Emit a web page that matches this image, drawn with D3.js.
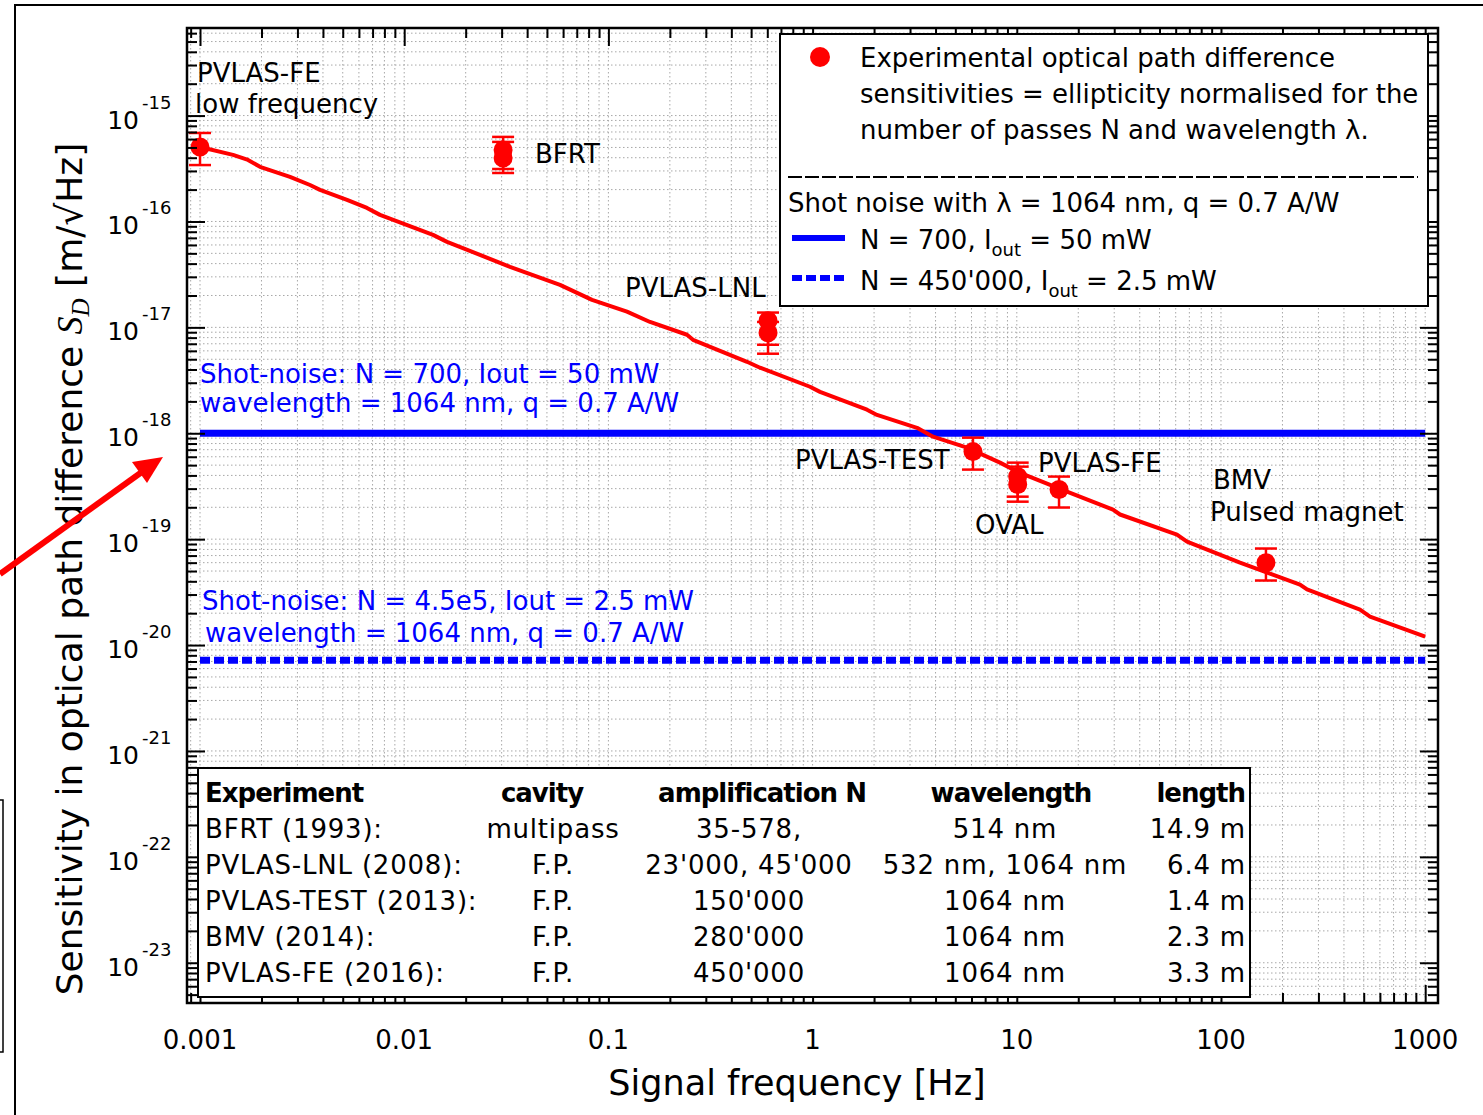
<!DOCTYPE html>
<html>
<head>
<meta charset="utf-8">
<script src="https://cdn.jsdelivr.net/npm/d3@7"></script>
<style>
  body { margin: 0; background: #fff; }
  text { font-family: "DejaVu Sans", sans-serif; }
</style>
</head>
<body>
<div id="chart"></div>
<script>
"use strict"

// sensitivity curve of PVLAS-FE (frequency in Hz, sensitivity in m/sqrt(Hz))
var curveFreq = [0.001, 0.001451, 0.001718, 0.001967, 0.002759, 0.003457, 0.003869, 0.005247, 0.006572, 0.007612,
    0.01384, 0.01621, 0.02945, 0.03297, 0.05794, 0.08313, 0.1233, 0.1599, 0.2426, 0.2596, 0.4774, 0.5527,
    0.9712, 1.087, 1.847, 2.067, 3.246, 3.887, 5.703, 8.275, 10.02, 17.61, 29.59, 32.02, 60.87, 68.15,
    123.9, 243.7, 263.8, 479.4, 536.7, 1000];
var curveVal = [5.05e-16, 4.25e-16, 3.81e-16, 3.28e-16, 2.64e-16, 2.21e-16, 1.99e-16, 1.60e-16, 1.343e-16, 1.154e-16,
    7.47e-17, 6.42e-17, 4.07e-17, 3.73e-17, 2.52e-17, 1.82e-17, 1.41e-17, 1.125e-17, 8.52e-18, 7.63e-18, 4.73e-18, 4.16e-18,
    2.75e-18, 2.46e-18, 1.67e-18, 1.49e-18, 1.125e-18, 9.28e-19, 7.31e-19, 5.28e-19, 4.35e-19, 2.81e-19, 1.90e-19, 1.71e-19, 1.106e-19, 9.50e-20,
    6.01e-20, 3.73e-20, 3.35e-20, 2.16e-20, 1.86e-20, 1.20e-20];

// experimental points with error bars
var ptFreq = [0.001, 0.0305, 0.0305, 0.605, 0.605, 6.1, 10.1, 10.1, 16.1, 166];
var ptVal  = [5.05e-16, 4.74e-16, 3.98e-16, 1.154e-17, 8.89e-18, 6.71e-19, 3.90e-19, 3.28e-19, 2.94e-19, 6.00e-20];
var ptHi   = [6.85e-16, 6.29e-16, 5.64e-16, 1.38e-17, 1.125e-17, 9.09e-19, 5.28e-19, 4.84e-19, 3.90e-19, 8.16e-20];
var ptLo   = [3.41e-16, 3.13e-16, 2.87e-16, 6.85e-18, 5.64e-18, 4.54e-19, 2.52e-19, 2.26e-19, 1.99e-19, 4.07e-20];

// shot noise levels
var shotNoise700 = 1.0e-18;
var shotNoise450k = 7.2e-21;

// tick labels
var xTickVals = [0.001, 0.01, 0.1, 1, 10, 100, 1000];
var xTickLabels = ["0.001", "0.01", "0.1", "1", "10", "100", "1000"];
var yTickExps = [-15, -16, -17, -18, -19, -20, -21, -22, -23];

// table
var tblExperiment = ["BFRT (1993):", "PVLAS-LNL (2008):", "PVLAS-TEST (2013):", "BMV (2014):", "PVLAS-FE (2016):"];
var tblCavity = ["multipass", "F.P.", "F.P.", "F.P.", "F.P."];
var tblAmplification = ["35-578,", "23'000, 45'000", "150'000", "280'000", "450'000"];
var tblWavelength = ["514 nm", "532 nm, 1064 nm", "1064 nm", "1064 nm", "1064 nm"];
var tblLength = ["14.9 m", "6.4 m", "1.4 m", "2.3 m", "3.3 m"];

var W = 1483, H = 1115;
var pLeft = 187, pRight = 1438, pTop = 28, pBottom = 1003;

var svg = d3.select("#chart").append("svg")
    .attr("width", W).attr("height", H);
svg.append("rect").attr("width", W).attr("height", H).attr("fill", "#fff");

var x = d3.scaleLog()
    .domain([Math.pow(10, -3.0637), Math.pow(10, 3.0627)])
    .range([pLeft, pRight]);
var y = d3.scaleLog()
    .domain([Math.pow(10, -14.173), Math.pow(10, -23.38)])
    .range([pTop, pBottom]);

// all log ticks inside a domain, split into major / minor
function logTicks(scale, d0, d1) {
    var dom = scale.domain(), lo = Math.min(dom[0], dom[1]), hi = Math.max(dom[0], dom[1]);
    var major = [], minor = [];
    for (var d = d0; d <= d1; d++) {
        for (var k = 1; k <= 9; k++) {
            var v = k * Math.pow(10, d);
            if (v < lo || v > hi) continue;
            if (k == 1) major.push(v); else minor.push(v);
        }
    }
    return {major: major, minor: minor};
}
var xt = logTicks(x, -4, 3);
var yt = logTicks(y, -24, -14);

// grid
var grid = svg.append("g").attr("stroke", "#a8a8a8").attr("stroke-width", 1).attr("stroke-dasharray", "1.5,2.5");
grid.selectAll("line.v").data(xt.major.concat(xt.minor)).enter().append("line")
    .attr("x1", function(d) { return x(d); }).attr("x2", function(d) { return x(d); })
    .attr("y1", pTop).attr("y2", pBottom);
grid.selectAll("line.h").data(yt.major.concat(yt.minor)).enter().append("line")
    .attr("y1", function(d) { return y(d); }).attr("y2", function(d) { return y(d); })
    .attr("x1", pLeft).attr("x2", pRight);

// shot noise lines
svg.append("line")
    .attr("x1", x(0.001)).attr("x2", x(1000))
    .attr("y1", y(shotNoise700)).attr("y2", y(shotNoise700))
    .attr("stroke", "#0000ff").attr("stroke-width", 7);
svg.append("line")
    .attr("x1", x(0.001)).attr("x2", x(1000))
    .attr("y1", y(shotNoise450k)).attr("y2", y(shotNoise450k))
    .attr("stroke", "#0000ff").attr("stroke-width", 7).attr("stroke-dasharray", "10,4");

// blue annotations
var blue = [["Shot-noise: N = 700, Iout = 50 mW", 200, 383], ["wavelength = 1064 nm, q = 0.7 A/W", 200, 412],
    ["Shot-noise: N = 4.5e5, Iout = 2.5 mW", 202, 610], ["wavelength = 1064 nm, q = 0.7 A/W", 205, 642]];
blue.forEach(function(b) {
    svg.append("text").attr("x", b[1]).attr("y", b[2]).attr("fill", "#0000ff")
        .style("font-size", "26px").text(b[0]);
});

// red curve
var line = d3.line()
    .x(function(d) { return x(d[0]); })
    .y(function(d) { return y(d[1]); });
svg.append("path")
    .datum(curveFreq.map(function(f, i) { return [f, curveVal[i]]; }))
    .attr("d", line)
    .attr("fill", "none").attr("stroke", "#ff0000").attr("stroke-width", 4)
    .attr("stroke-linejoin", "round");

// error bars and points
var pts = ptFreq.map(function(f, i) { return {f: f, v: ptVal[i], lo: ptLo[i], hi: ptHi[i]}; });
var eb = svg.append("g").attr("stroke", "#ff0000").attr("stroke-width", 2.5);
pts.forEach(function(p) {
    var cx = x(p.f);
    eb.append("line").attr("x1", cx).attr("x2", cx).attr("y1", y(p.hi)).attr("y2", y(p.lo));
    eb.append("line").attr("x1", cx - 11).attr("x2", cx + 11).attr("y1", y(p.hi)).attr("y2", y(p.hi));
    eb.append("line").attr("x1", cx - 11).attr("x2", cx + 11).attr("y1", y(p.lo)).attr("y2", y(p.lo));
});
svg.append("g").selectAll("circle").data(pts).enter().append("circle")
    .attr("cx", function(d) { return x(d.f); })
    .attr("cy", function(d) { return y(d.v); })
    .attr("r", 9.5).attr("fill", "#ff0000");

// black annotations
var notes = [["PVLAS-FE", 197, 82], ["low frequency", 195, 113], ["BFRT", 535, 163], ["PVLAS-LNL", 625, 297],
    ["PVLAS-TEST", 795, 469], ["PVLAS-FE", 1038, 472], ["OVAL", 975, 534], ["BMV", 1213, 489], ["Pulsed magnet", 1210, 521]];
notes.forEach(function(n) {
    svg.append("text").attr("x", n[1]).attr("y", n[2]).style("font-size", "26px").text(n[0]);
});

// ticks on all four sides, pointing inwards
function ticks(axis, transform, vals, size) {
    svg.append("g").attr("transform", transform)
        .call(axis.tickValues(vals).tickSize(size).tickSizeOuter(0).tickFormat(""))
        .call(function(g) {
            g.select(".domain").remove();
            g.selectAll("line").attr("stroke", "#000").attr("stroke-width", 2);
        });
}
ticks(d3.axisBottom(x), "translate(0," + pBottom + ")", xt.minor, -10);
ticks(d3.axisBottom(x), "translate(0," + pBottom + ")", xt.major, -18);
ticks(d3.axisTop(x), "translate(0," + pTop + ")", xt.minor, -10);
ticks(d3.axisTop(x), "translate(0," + pTop + ")", xt.major, -18);
ticks(d3.axisLeft(y), "translate(" + pLeft + ",0)", yt.minor, -10);
ticks(d3.axisLeft(y), "translate(" + pLeft + ",0)", yt.major, -18);
ticks(d3.axisRight(y), "translate(" + pRight + ",0)", yt.minor, -10);
ticks(d3.axisRight(y), "translate(" + pRight + ",0)", yt.major, -18);

// legend box
svg.append("rect").attr("x", 780).attr("y", 34).attr("width", 648).attr("height", 272)
    .attr("fill", "#fff").attr("stroke", "#000").attr("stroke-width", 2);
svg.append("circle").attr("cx", 820).attr("cy", 57).attr("r", 10).attr("fill", "#ff0000");
["Experimental optical path difference", "sensitivities = ellipticity normalised for the",
    "number of passes N and wavelength \u03bb."].forEach(function(t, i) {
    svg.append("text").attr("x", 860).attr("y", 67 + i * 36).style("font-size", "26px").text(t);
});
svg.append("line").attr("x1", 788).attr("x2", 1418).attr("y1", 177).attr("y2", 177)
    .attr("stroke", "#000").attr("stroke-width", 2).attr("stroke-dasharray", "14,3");
svg.append("text").attr("x", 788).attr("y", 212).style("font-size", "26px")
    .text("Shot noise with \u03bb = 1064 nm, q = 0.7 A/W");
svg.append("line").attr("x1", 792).attr("x2", 845).attr("y1", 238).attr("y2", 238)
    .attr("stroke", "#0000ff").attr("stroke-width", 6);
svg.append("line").attr("x1", 792).attr("x2", 845).attr("y1", 278).attr("y2", 278)
    .attr("stroke", "#0000ff").attr("stroke-width", 6).attr("stroke-dasharray", "10,4");
function subLabel(yy, a, b) {
    var t = svg.append("text").attr("x", 860).attr("y", yy).style("font-size", "26px");
    t.append("tspan").text(a);
    t.append("tspan").attr("dy", 7).style("font-size", "18px").text("out");
    t.append("tspan").attr("dy", -7).text(b);
}
subLabel(249, "N = 700, I", " = 50 mW");
subLabel(290, "N = 450'000, I", " = 2.5 mW");

// table box
svg.append("rect").attr("x", 198).attr("y", 768).attr("width", 1052).attr("height", 229)
    .attr("fill", "#fff").attr("stroke", "#000").attr("stroke-width", 2);
var hdr = [["Experiment", 205, "start"], ["cavity", 542, "middle"], ["amplification N", 762, "middle"],
    ["wavelength", 1011, "middle"], ["length", 1245, "end"]];
hdr.forEach(function(h) {
    svg.append("text").attr("x", h[1]).attr("y", 802).attr("text-anchor", h[2])
        .style("font-size", "26px").style("font-weight", "bold").style("letter-spacing", "-1px").text(h[0]);
});
var cols = [[tblExperiment, 205, "start"], [tblCavity, 553, "middle"], [tblAmplification, 749, "middle"],
    [tblWavelength, 1005, "middle"], [tblLength, 1246, "end"]];
cols.forEach(function(c) {
    c[0].forEach(function(t, i) {
        svg.append("text").attr("x", c[1]).attr("y", 838 + i * 36).attr("text-anchor", c[2])
            .style("font-size", "26px").style("letter-spacing", "0.8px").text(t);
    });
});

// frame
svg.append("rect").attr("x", pLeft).attr("y", pTop).attr("width", pRight - pLeft).attr("height", pBottom - pTop)
    .attr("fill", "none").attr("stroke", "#000").attr("stroke-width", 2.5);

// tick labels
xTickVals.forEach(function(v, i) {
    svg.append("text").attr("x", x(v)).attr("y", 1049).attr("text-anchor", "middle")
        .style("font-size", "26px").text(xTickLabels[i]);
});
yTickExps.forEach(function(e) {
    var yy = y(Math.pow(10, e));
    svg.append("text").attr("x", 139).attr("y", yy + 13).attr("text-anchor", "end")
        .style("font-size", "25px").text("10");
    svg.append("text").attr("x", 142).attr("y", yy - 7)
        .style("font-size", "18px").text(String(e));
});

// axis titles
svg.append("text").attr("x", 797).attr("y", 1095).attr("text-anchor", "middle")
    .style("font-size", "35px").text("Signal frequency [Hz]");
var yt1 = svg.append("text").attr("transform", "translate(82,569) rotate(-90)")
    .attr("text-anchor", "middle").style("font-size", "36px");
yt1.append("tspan").text("Sensitivity in optical path difference ");
yt1.append("tspan").style("font-family", "'Liberation Serif', serif").style("font-style", "italic").text("S");
yt1.append("tspan").attr("dy", 7).style("font-family", "'Liberation Serif', serif").style("font-style", "italic")
    .style("font-size", "25px").text("D");
yt1.append("tspan").attr("dy", -7).text("  [m/\u221aHz]");

// surrounding figure bits: outer frame, side box and red arrow
svg.append("path").attr("d", "M15,1115 V5 H1483").attr("fill", "none").attr("stroke", "#000").attr("stroke-width", 2);
svg.append("rect").attr("x", -10).attr("y", 800).attr("width", 13).attr("height", 252)
    .attr("fill", "none").attr("stroke", "#000").attr("stroke-width", 1.5);
svg.append("line").attr("x1", 0).attr("y1", 574).attr("x2", 146).attr("y2", 469)
    .attr("stroke", "#ff0000").attr("stroke-width", 6);
svg.append("path").attr("d", "M163,457 L132,462 L147,483 Z").attr("fill", "#ff0000");
</script>
</body>
</html>
